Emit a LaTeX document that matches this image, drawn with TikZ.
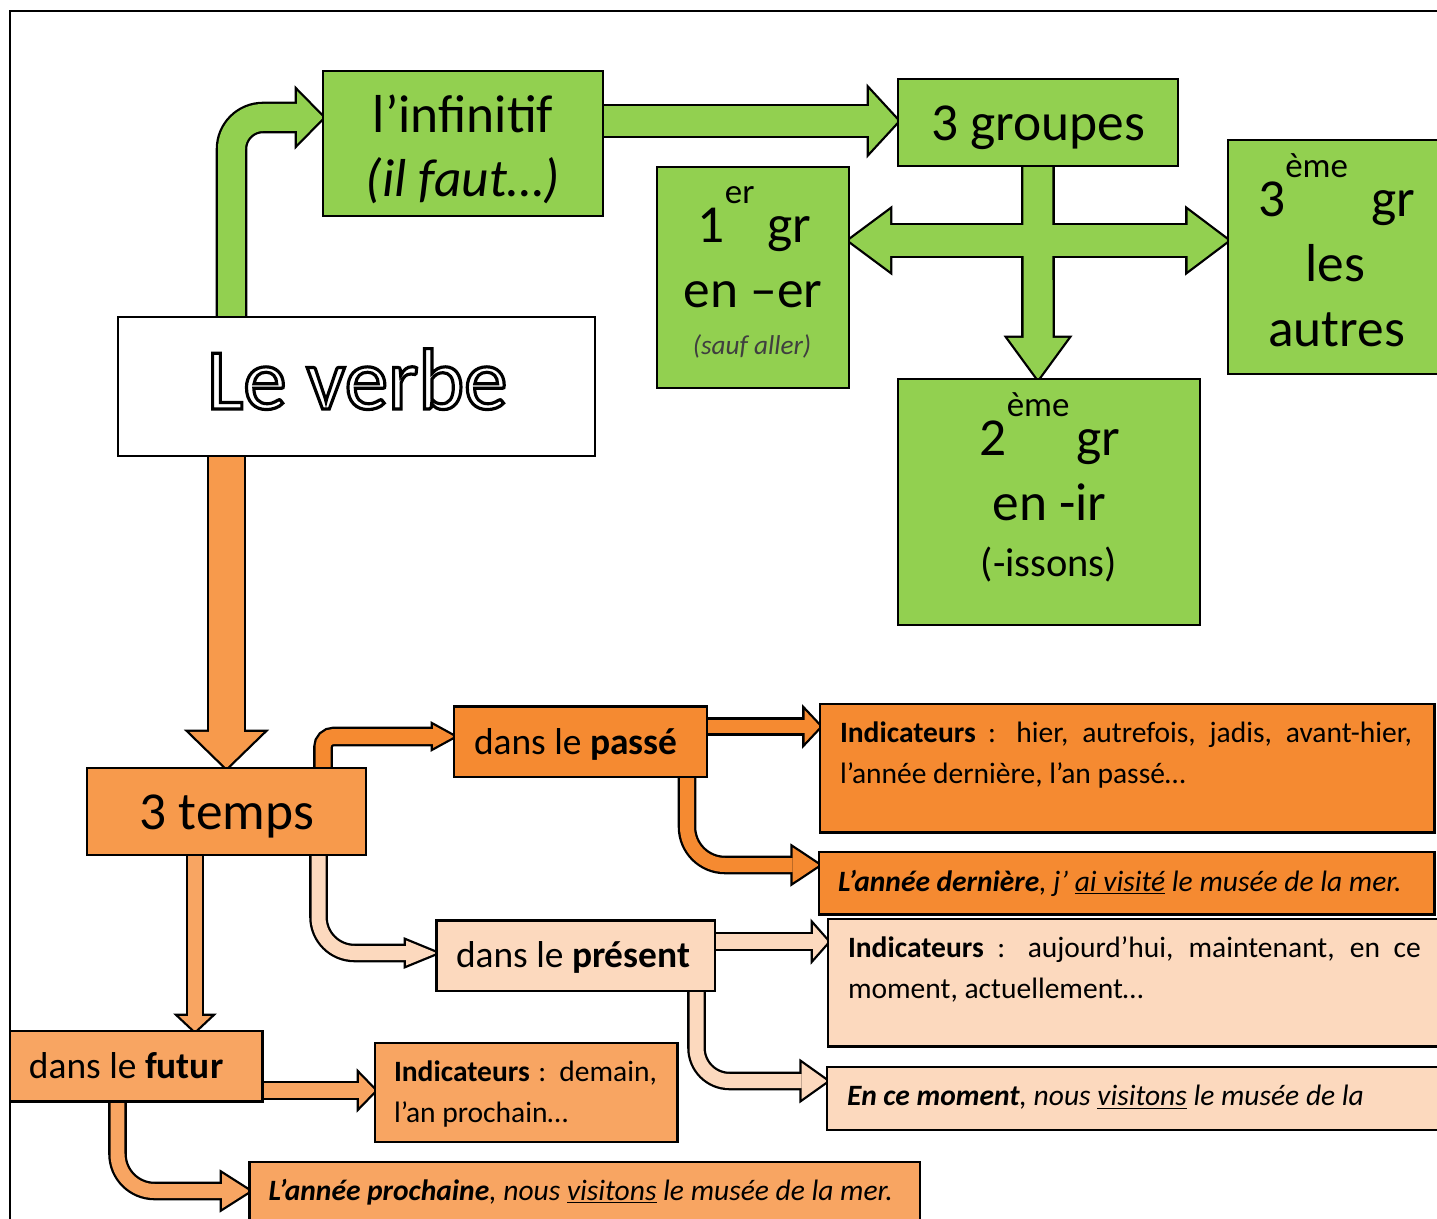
\documentclass[tikz,border=0pt]{standalone}
\usepackage{fontspec}
\setmainfont{Carlito}
\usetikzlibrary{calc}
\pgfdeclarelayer{bg}
\pgfsetlayers{bg,main}
\newcommand\fsz[2]{\fontsize{#1}{#2}\selectfont}
\newcommand\supr[1]{\raisebox{0.8cm}{\fsz{19.9}{20}#1}}
\newcommand\outlinetext[1]{{\color{white}\special{pdf:literal direct 0 G 2 Tr 1.8 w}#1\special{pdf:literal direct 0 Tr}}}
\definecolor{vert}{HTML}{92D050}
\definecolor{orfonce}{HTML}{F58A31}
\definecolor{ortemps}{HTML}{F79A4C}
\definecolor{orfutur}{HTML}{F8A562}
\definecolor{peche}{HTML}{FCD9BE}
\definecolor{gris}{HTML}{3F3F3F}
% block arrow pieces: shaft path, width / head base, tip, half-width
\newcommand\ShOut[2]{\draw[line width=#2+2.6pt, black, line cap=butt] #1;}
\newcommand\ShFill[3]{\draw[line width=#2, #3, line cap=butt] #1;}
\newcommand\HdOut[3]{\draw[line width=2.6pt, black, line join=miter] (#1) -- ($(#1)!#3!90:(#2)$) -- (#2) -- ($(#1)!#3!-90:(#2)$) -- cycle;}
\newcommand\HdFill[4]{\fill[#4] (#1) -- ($(#1)!#3!90:(#2)$) -- (#2) -- ($(#1)!#3!-90:(#2)$) -- cycle;}
\newcommand\BArrow[6]{\ShOut{#1}{#2}\HdOut{#3}{#4}{#5}\ShFill{#1}{#2}{#6}\HdFill{#3}{#4}{#5}{#6}}
\begin{document}
\begin{tikzpicture}[x=0.02cm, y=-0.02cm,
  box/.style={draw, line width=1.5pt, inner sep=0pt, outer sep=0pt, anchor=north west, rectangle},
  txt/.style={inner sep=0pt, outer sep=0pt, anchor=base},
  ltxt/.style={inner sep=0pt, outer sep=0pt, anchor=base west},
  big/.style={font=\fsz{30.4}{32}},
  mid/.style={font=\fsz{21.3}{24}},
  small/.style={font=\fsz{16.8}{23.8}},
  smallit/.style={font=\fsz{16.8}{23.8}\itshape},
  para/.style={ltxt, small, align=justify}]
\useasboundingbox (0,0) rectangle (1437,1219);
\clip (0,0) rectangle (1437,1219);
\draw[line width=0.9pt] (10,1240) -- (10,11) -- (1460,11);

% boxes
\node[box, fill=vert, minimum width=5.6cm, minimum height=2.9cm] (infin) at (323,71) {};
\node[box, fill=vert, minimum width=5.6cm, minimum height=1.74cm] (grp) at (898,79) {};
\node[box, fill=vert, minimum width=3.84cm, minimum height=4.42cm] (g1) at (657,167) {};
\node[box, fill=vert, minimum width=4.32cm, minimum height=4.68cm] (g3) at (1228,140) {};
\node[box, fill=vert, minimum width=6.04cm, minimum height=4.92cm] (g2) at (898,379) {};
\node[box, fill=white, minimum width=9.54cm, minimum height=2.78cm] (verbe) at (118,317) {};
\node[box, fill=ortemps, minimum width=5.58cm, minimum height=1.74cm] (temps) at (87,768) {};
\node[box, fill=orfonce, minimum width=5.06cm, minimum height=1.41cm] (passe) at (454,706.5) {};
\node[box, fill=orfonce, minimum width=12.29cm, minimum height=2.57cm] (ip) at (820,704) {};
\node[box, fill=orfonce, minimum width=12.31cm, minimum height=1.25cm] (ad) at (819,852) {};
\node[box, fill=peche, minimum width=5.57cm, minimum height=1.41cm] (pres) at (436.5,920.5) {};
\node[box, fill=peche, minimum width=12.30cm, minimum height=2.55cm] (ipr) at (828,919) {};
\node[box, fill=peche, minimum width=12.32cm, minimum height=1.26cm] (ecm) at (827,1067) {};
\node[box, fill=orfutur, minimum width=5.05cm, minimum height=1.41cm] (fut) at (10,1031) {};
\node[box, fill=orfutur, minimum width=6.05cm, minimum height=1.98cm] (if) at (375,1043) {};
\node[box, fill=orfutur, minimum width=13.41cm, minimum height=1.24cm] (apr) at (249.5,1162) {};

% texts
\node[txt, big] (tinf1) at (463,133) {l’infinitif};
\node[txt, font=\fsz{30.4}{32}\itshape] (tinf2) at (463,197) {(il faut…)};
\node[txt, big] (tgrp) at (1038.5,141) {3 groupes};
\node[txt, font=\fsz{49.5}{52}] (tverbe) at (357,409) {\outlinetext{Le verbe}};
\node[txt, big] (tg1a) at (754.5,243) {1\supr{er}\hspace{0.26cm}gr};
\node[txt, big] (tg1b) at (753,308) {en –er};
\node[txt, font=\fsz{15.5}{17}\itshape, text=gris] (tg1c) at (752,355) {(sauf aller)};
\node[txt, big] (tg3a) at (1336.5,217) {3\supr{ème}\hspace{0.46cm}gr};
\node[txt, big] (tg3b) at (1335.5,282) {les};
\node[txt, big] (tg3c) at (1336.5,347) {autres};
\node[txt, big] (tg2a) at (1050,456) {2\supr{ème}\hspace{0.14cm}gr};
\node[txt, big] (tg2b) at (1049.5,521) {en -ir};
\node[txt, font=\fsz{23}{25}] (tg2c) at (1049,577) {(-issons)};
\node[txt, big] (ttemps) at (227,829) {3 temps};
\node[ltxt, mid] (tpasse) at (474,754) {dans le \textbf{passé}};
\node[ltxt, mid] (tpres) at (456,967) {dans le \textbf{présent}};
\node[ltxt, mid] (tfut) at (29,1078.6) {dans le \textbf{futur}};
\node[para, text width=11.44cm] (tip) at (840,742) {\textbf{Indicateurs} : hier, autrefois, jadis, avant-hier,\linebreak l’année dernière, l’an passé…};
\node[para, text width=11.46cm] (tipr) at (848,957) {\textbf{Indicateurs} : aujourd’hui, maintenant, en ce\linebreak moment, actuellement…};
\node[para, text width=5.26cm] (tif) at (394,1081) {\textbf{Indicateurs} : demain,\linebreak l’an prochain…};
\node[ltxt, smallit] (tad) at (838,891) {\textbf{L’année dernière}, j’ \underline{ai visité} le musée de la mer.};
\node[ltxt, smallit] (tecm) at (847,1105.5) {\textbf{En ce moment}, nous \underline{visitons} le musée de la};
\node[ltxt, smallit] (tapr) at (268.5,1200) {\textbf{L’année prochaine}, nous \underline{visitons} le musée de la mer.};

% connectors (block arrows) behind the boxes
\begin{pgfonlayer}{bg}
% verbe -> infinitif
\BArrow{[rounded corners=0.63cm] (verbe.north -| 231.5,0) -- (231.5,117.5) -- (297,117.5)}{0.54cm}{297,117.5}{infin.west |- 0,117.5}{0.53cm}{vert}
% infinitif -> 3 groupes
\BArrow{(infin.east |- 0,121) -- (869,121)}{0.60cm}{869,121}{grp.west |- 0,121}{0.63cm}{vert}
% cross: 3 groupes -> 1er, 2eme, 3eme
\ShOut{(grp.south) -- (1038,338)}{0.58cm}
\ShOut{(890,240.5) -- (1187.5,240.5)}{0.62cm}
\HdOut{1038,338}{1038,0 |- g2.north}{0.60cm}
\HdOut{890,240.5}{g1.east |- 0,240.5}{0.61cm}
\HdOut{1187.5,240.5}{g3.west |- 0,240.5}{0.61cm}
\ShFill{(grp.south) -- (1038,338)}{0.58cm}{vert}
\ShFill{(890,240.5) -- (1187.5,240.5)}{0.62cm}{vert}
\HdFill{1038,338}{1038,0 |- g2.north}{0.60cm}{vert}
\HdFill{890,240.5}{g1.east |- 0,240.5}{0.61cm}{vert}
\HdFill{1187.5,240.5}{g3.west |- 0,240.5}{0.61cm}{vert}
% verbe -> 3 temps
\BArrow{(verbe.south -| 226.5,0) -- (226.5,732)}{0.70cm}{226.5,732}{temps.north}{0.74cm}{ortemps}
% 3 temps -> passe
\BArrow{[rounded corners=0.21cm] (temps.north -| 323,0) -- (323,736.5) -- (433,736.5)}{0.30cm}{433,736.5}{passe.west |- 0,736.5}{0.23cm}{orfonce}
% passe -> indicateurs
\BArrow{(passe.east |- 0,726.5) -- (804.5,726.5)}{0.27cm}{804.5,726.5}{ip.west |- 0,726.5}{0.33cm}{orfonce}
% passe -> exemple
\BArrow{[rounded corners=0.76cm] (passe.south -| 687,0) -- (687,865) -- (792.6,865)}{0.28cm}{792.6,865}{ad.west |- 0,865}{0.35cm}{orfonce}
% 3 temps -> present
\BArrow{[rounded corners=0.72cm] (temps.south -| 318.5,0) -- (318.5,953) -- (406,953)}{0.28cm}{406,953}{pres.west |- 0,953}{0.25cm}{peche}
% present -> indicateurs
\BArrow{(pres.east |- 0,941.7) -- (813,941.7)}{0.30cm}{813,941.7}{ipr.west |- 0,941.7}{0.34cm}{peche}
% present -> exemple
\BArrow{[rounded corners=0.66cm] (pres.south -| 696.5,0) -- (696.5,1081) -- (801.7,1081)}{0.28cm}{801.7,1081}{ecm.west |- 0,1081}{0.36cm}{peche}
% 3 temps -> futur
\BArrow{(temps.south -| 195,0) -- (195,1016)}{0.27cm}{195,1016}{fut.north -| 195,0}{0.32cm}{orfutur}
% futur -> indicateurs
\BArrow{(fut.east |- 0,1090.5) -- (359,1090.5)}{0.30cm}{359,1090.5}{if.west |- 0,1090.5}{0.33cm}{orfutur}
% futur -> exemple
\BArrow{[rounded corners=0.74cm] (fut.south -| 117.5,0) -- (117.5,1191) -- (222,1191)}{0.28cm}{222,1191}{apr.west |- 0,1191}{0.35cm}{orfutur}
\end{pgfonlayer}
\end{tikzpicture}
\end{document}
